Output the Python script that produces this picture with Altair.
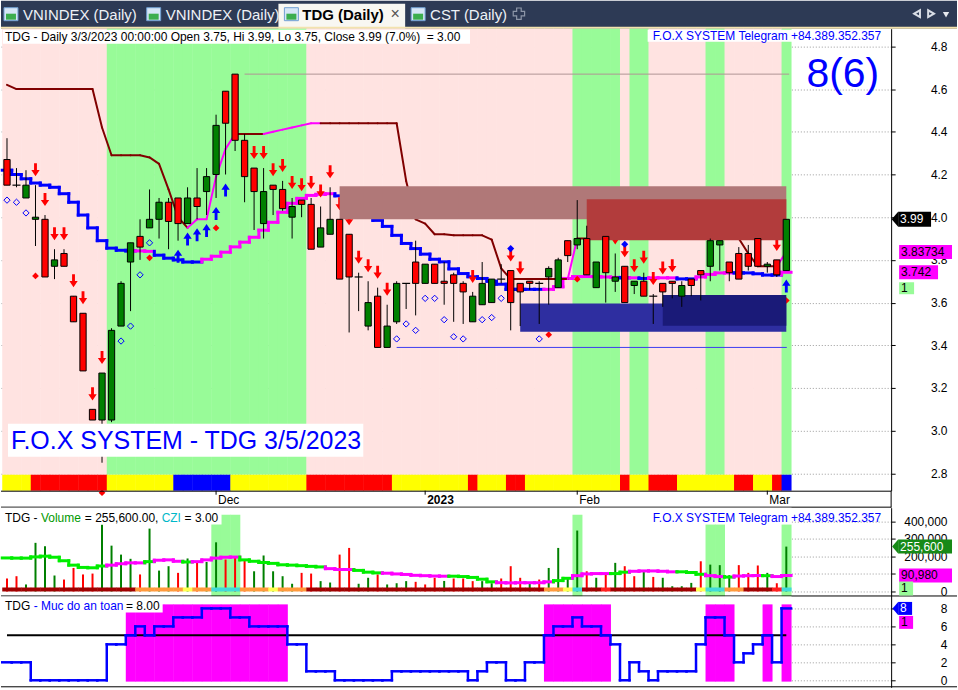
import altair as alt
import numpy as np
import pandas as pd

FONT = "Liberation Sans"
BLUE = "#0000ff"
MAGENTA = "#ff00ff"

# ---------------- daily bars: 1 Nov 2022 (index 0) .. 3 Mar 2023 (index 82) ----------------
opens = [4.27, 4.15, 4.09, 3.99, 3.99, 3.77, 3.83, 3.63, 3.55, 3.10,
         3.05, 3.05, 3.49, 3.79, 3.91, 3.95, 3.99, 4.07, 4.09, 3.97,
         4.09, 4.12, 4.20, 4.59, 4.67, 4.36, 4.23, 3.97, 4.15, 4.13,
         4.00, 4.08, 4.06, 3.86, 3.92, 3.99, 3.92, 3.72, 3.49, 3.63,
         3.39, 3.51, 3.69, 3.79, 3.69, 3.78, 3.70, 3.73, 3.69, 3.51,
         3.59, 3.60, 3.71, 3.75, 3.69, 3.70, 3.69, 3.72, 3.67, 3.89,
         3.87, 3.90, 3.67, 3.91, 3.70, 3.77, 3.68, 3.70, 3.63, 3.69,
         3.70, 3.63, 3.71, 3.75, 3.77, 3.87, 3.79, 3.83, 3.83, 3.90,
         3.77, 3.80, 3.75]
highs = [4.37, 4.23, 4.22, 4.15, 4.01, 3.85, 3.85, 3.63, 3.55, 3.10,
         3.27, 3.48, 3.70, 3.88, 3.99, 4.13, 4.09, 4.09, 4.09, 4.14,
         4.23, 4.23, 4.48, 4.59, 4.67, 4.39, 4.23, 4.23, 4.15, 4.17,
         4.09, 4.08, 4.09, 4.05, 4.14, 3.99, 3.92, 3.74, 3.70, 3.67,
         3.59, 3.70, 3.69, 3.89, 3.78, 3.78, 3.79, 3.74, 3.70, 3.65,
         3.79, 3.71, 3.78, 3.75, 3.69, 3.70, 3.70, 3.77, 3.81, 3.89,
         4.08, 3.96, 3.79, 3.91, 3.83, 3.77, 3.70, 3.74, 3.64, 3.69,
         3.70, 3.70, 3.71, 3.75, 3.90, 3.89, 3.79, 3.86, 3.87, 3.90,
         3.79, 3.80, 3.99]
lows = [4.15, 4.14, 4.09, 3.865, 3.72, 3.71, 3.77, 3.51, 3.28, 3.05,
        2.85, 3.04, 3.49, 3.56, 3.80, 3.95, 3.90, 3.85, 3.89, 3.97,
        3.99, 4.01, 4.09, 4.20, 4.31, 4.07, 3.94, 3.90, 4.01, 4.03,
        3.90, 4.00, 3.85, 3.86, 3.92, 3.71, 3.46, 3.56, 3.47, 3.39,
        3.39, 3.50, 3.57, 3.54, 3.69, 3.69, 3.59, 3.51, 3.50, 3.51,
        3.59, 3.60, 3.69, 3.47, 3.49, 3.66, 3.50, 3.59, 3.67, 3.79,
        3.85, 3.73, 3.67, 3.60, 3.65, 3.60, 3.64, 3.63, 3.50, 3.58,
        3.62, 3.58, 3.63, 3.61, 3.70, 3.75, 3.70, 3.71, 3.75, 3.77,
        3.74, 3.72, 3.75]
closes = [4.15, 4.15, 4.15, 4.00, 3.72, 3.80, 3.77, 3.51, 3.28, 3.05,
          3.27, 3.47, 3.69, 3.88, 3.86, 3.99, 4.07, 3.98, 3.97, 4.09,
          4.05, 4.19, 4.43, 4.44, 4.36, 4.19, 4.12, 4.12, 4.13, 4.04,
          4.05, 4.06, 3.85, 3.95, 3.99, 3.71, 3.72, 3.72, 3.60, 3.39,
          3.49, 3.69, 3.69, 3.69, 3.78, 3.69, 3.69, 3.69, 3.65, 3.63,
          3.69, 3.71, 3.71, 3.60, 3.65, 3.69, 3.69, 3.76, 3.80, 3.82,
          3.90, 3.73, 3.79, 3.74, 3.72, 3.60, 3.70, 3.63, 3.63, 3.65,
          3.69, 3.68, 3.68, 3.73, 3.89, 3.89, 3.74, 3.71, 3.77, 3.77,
          3.78, 3.73, 3.99]

month_ticks = [22, 44, 60, 80]
month_labels = ["Dec", "2023", "Feb", "Mar"]

# trend state shaded behind each bar: 1 = up (green), 0 = down (pink)
trend_state = ("0000000000" "0111111111"
               "1111111111" "1100000000"
               "0000000000" "0000000000"
               "1111101100" "0000110000"
               "001")
# signal strip at the bottom of the price pane
strip_state = ("YYYRRRRRRR" "RYYYYYYYBB"
               "BBBBYYYYYY" "YYRRRRRRRR"
               "RYYYYYYYYR" "YYYRRYYYYY"
               "YYYYYRYYRR" "RYYYYYYRRY"
               "YRB")

# trailing stop (maroon = bearish, magenta = bullish)
stop_line = [4.62, 4.60, 4.60, 4.60, 4.60, 4.60, 4.60, 4.60, 4.60, 4.60,
             4.42, 4.29, 4.29, 4.29, 4.29, 4.28, 4.25, 4.13, 4.00, 3.95,
             3.99, 3.99, 4.19, 4.32, 4.39, 4.39, 4.39, 4.39, 4.40, 4.41,
             4.42, 4.43, 4.44, 4.44, 4.44, 4.44, 4.44, 4.44, 4.44, 4.44,
             4.44, 4.44, 4.17, 3.99, 3.97, 3.92, 3.92, 3.915, 3.915, 3.915,
             3.915, 3.895, 3.76, 3.71, 3.71, 3.71, 3.71, 3.71, 3.71, 3.71,
             3.90, 3.90, 3.90, 3.90, 3.90, 3.90, 3.90, 3.90, 3.90, 3.90,
             3.90, 3.90, 3.90, 3.90, 3.90, 3.90, 3.90, 3.90, 3.83, 3.77,
             3.77, 3.77, 3.83734]
stop_state = ("mmmmmmmmmm" "mmmmmmmmmm"
              "MMMMMmmmMM" "MMMMmmmmmm"
              "mmmmmmmmmm" "mmmmmmmmmm"
              "Mmmmmmmmmm" "mmmmmmmmmm"
              "mmM")

# staircase average (blue = below, magenta = above)
base_line = [4.22, 4.20, 4.18, 4.16, 4.15, 4.14, 4.11, 4.07, 4.01, 3.95,
             3.89, 3.855, 3.845, 3.842, 3.842, 3.84, 3.822, 3.808, 3.80, 3.79,
             3.79, 3.803, 3.817, 3.836, 3.861, 3.883, 3.906, 3.939, 3.976, 4.023,
             4.065, 4.088, 4.102, 4.107, 4.11, 4.10, 4.079, 4.042, 4.014, 3.985,
             3.957, 3.915, 3.877, 3.853, 3.827, 3.803, 3.791, 3.758, 3.736, 3.721,
             3.713, 3.70, 3.686, 3.662, 3.662, 3.662, 3.662, 3.662, 3.674, 3.713,
             3.722, 3.722, 3.722, 3.72, 3.718, 3.716, 3.716, 3.713, 3.716, 3.716,
             3.716, 3.711, 3.711, 3.72, 3.732, 3.739, 3.739, 3.739, 3.739, 3.735,
             3.729, 3.729, 3.742]
base_state = ("bbbbbbbbbb" "bbbbMMbbbb"
              "bMMMMMMMMM" "MMMMMbbbbb"
              "bbbbbbbbbb" "bbbbbbbMMM"
              "MMMMMbMbMM" "MbbMMMMbbb"
              "bbM")

sell_bars = [3, 4, 5, 6, 7, 8, 9, 10, 26, 27, 28, 29, 30, 31, 32, 33, 34, 35, 36, 37,
             38, 39, 40, 49, 53, 54, 64, 65, 66, 67, 68, 69, 70, 81]
buy_bars = [18, 19, 20, 21, 22, 23, 82]
red_dot_bars = [3, 10, 15, 22, 57, 60, 82]
hollow_bars = [0, 1, 2, 12, 13, 14, 15, 41, 42, 43, 44, 45, 46, 47, 48, 50, 51, 52, 56]
blue_dot_bars = [53, 65]

# supply / demand zones
zone_start = [35, 61, 54, 69]
zone_low = [3.99, 3.892, 3.464, 3.492]
zone_high = [4.145, 4.084, 3.596, 3.635]
zone_color = ["#b07878", "#b23c3c", "#2e2ea0", "#1a1a78"]

# ---------------- volume pane ----------------
volumes = [74000, 87000, 40000, 277000, 258000, 91000, 68000, 134000, 97000, 102000,
           381000, 261000, 210000, 186000, 97000, 358000, 119000, 144000, 106000, 188000,
           172000, 168000, 280000, 182000, 201000, 176000, 115000, 205000, 115000, 87000,
           44000, 106000, 102000, 59000, 51000, 210000, 248000, 44000, 78000, 97000,
           40000, 47000, 59000, 55000, 40000, 78000, 60000, 74000, 74000, 59000,
           59000, 47000, 74000, 144000, 78000, 49000, 68000, 134000, 248000, 80000,
           347000, 115000, 78000, 106000, 163000, 144000, 87000, 115000, 83000, 78000,
           30000, 30000, 49000, 172000, 153000, 150000, 93000, 150000, 106000, 148000,
           106000, 47000, 255600]
volume_dir = ("rrggggrrrr" "ggggrgggrg"
              "rggrrrgggg" "grrggrrggr"
              "gggrrrgrrr" "ggrrrgrggg"
              "grgrgrrgrg" "gggrgggrrr"
              "grg")
volume_avg = [191000, 190000, 190000, 197000, 201000, 195000, 175000, 150000, 137000, 135000,
              145000, 150000, 158000, 163000, 163000, 170000, 178000, 180000, 172000, 168000,
              170000, 180000, 190000, 195000, 196000, 180000, 172000, 165000, 160000, 152000,
              150000, 147000, 143000, 140000, 130000, 125000, 125000, 120000, 110000, 106000,
              104000, 100000, 97000, 92000, 90000, 88000, 87000, 87000, 85000, 80000,
              70000, 55000, 50000, 49000, 50000, 50000, 50000, 55000, 62000, 75000,
              90000, 100000, 102000, 102000, 102000, 110000, 115000, 117000, 117000, 115000,
              112000, 112000, 108000, 98000, 90000, 85000, 82000, 88000, 90000, 91000,
              90000, 85000, 90980]
volume_avg_state = ("GGGGGGGGGG" "GMMMMGMMMG"
                    "MMMMMGGGGG" "GGGGMMMGGG"
                    "MMMMMMMGGG" "GGMMMMMMGG"
                    "MMMMGGMMMM" "MGGGMMGMMM"
                    "GMM")
volume_strip = ("DDDDDDDDDD" "DDDDOOOOOY"
                "OOCCCOOOYO" "OODDDDDDDD"
                "DDDDDDDDDD" "DDDDDDDOOY"
                "CDDRDDDDDD" "DDDYCCOODD"
                "DRC")
vol_signal_bars = [22, 23, 24, 60, 74, 75, 82]
vol_signal_top = [437000, 437000, 437000, 437000, 381000, 381000, 381000]
czi_value = 3.00

# ---------------- safety pane ("Muc do an toan") ----------------
safety = [2, 2, 2, 0, 0, 0, 0, 0, 0, 0,
          0, 4, 4, 5, 6, 5, 6, 6, 7, 7,
          7, 8, 8, 8, 7, 7, 6, 6, 6, 6,
          4, 4, 1, 1, 1, 0, 0, 0, 0, 0,
          0, 1, 1, 1, 1, 1, 1, 1, 1, 0,
          1, 2, 2, 0, 0, 2, 2, 5, 6, 6,
          7, 6, 6, 5, 4, 0, 2, 1, 0, 1,
          1, 1, 1, 4, 7, 7, 5, 2, 3, 4,
          5, 2, 8]
safety_level = 5

# ---------------- layout & scales ----------------
N = len(closes)
W_PLOT = 892
W_ALL = 958
H_TABS, H_PRICE, H_DATES, H_VOL, H_SAFE = 28, 463, 17, 89, 91

XS = alt.Scale(domain=[-0.63, 93.03], nice=False, zero=False)
PRICE_DOM = [2.719, 4.883]
VOL_DOM = [-28400, 477300]
SAFE_DOM = [-0.78, 9.33]
PX_PRICE = (PRICE_DOM[1] - PRICE_DOM[0]) / H_PRICE
PX_VOL = (VOL_DOM[1] - VOL_DOM[0]) / H_VOL

ONE = pd.DataFrame({"k": [0]})


def right_axis(values, fmt):
    return alt.Axis(orient="right", values=values, format=fmt, title=None,
                    tickSize=4, tickColor="black", domainColor="black",
                    labelAlign="right", labelPadding=52, labelFontSize=12,
                    labelColor="black", labelFont=FONT, grid=True, zindex=0,
                    gridColor="#9a9a9a", gridDash=[1, 2], labelBaseline="middle")


# every layer of a pane carries the same scale and axis so they merge into one
PANES = {
    "price": (alt.Scale(domain=PRICE_DOM, nice=False, zero=False),
              right_axis([round(2.8 + 0.2 * k, 1) for k in range(11)], ".1f")),
    "vol": (alt.Scale(domain=VOL_DOM, nice=False, zero=False),
            right_axis([0, 100000, 200000, 300000, 400000], ",.0f")),
    "safe": (alt.Scale(domain=SAFE_DOM, nice=False, zero=False),
             right_axis([0, 2, 4, 6, 8], "d")),
}


def X(field):
    return alt.X(f"{field}:Q", scale=XS, axis=None)


def Y(field, pane):
    scale, axis = PANES[pane]
    return alt.Y(f"{field}:Q", scale=scale, axis=axis)


def chrome_rect(x0, x1, y0, y1, color, **kw):
    return alt.Chart(ONE).mark_rect(color=color, **kw).encode(
        x=alt.value(x0), x2=alt.value(x1), y=alt.value(y0), y2=alt.value(y1))


def chrome_text(x, y, text, color="black", size=12, align="left", weight="normal"):
    return alt.Chart(ONE).mark_text(align=align, baseline="middle", fontSize=size,
                                    color=color, font=FONT, fontWeight=weight).encode(
        x=alt.value(x), y=alt.value(y), text=alt.value(text))


def chrome_hline(x0, x1, y, color="black", width=1):
    return alt.Chart(ONE).mark_rule(color=color, strokeWidth=width).encode(
        x=alt.value(x0), x2=alt.value(x1), y=alt.value(y))


def chrome_vline(x, y0, y1, color="black", width=1):
    return alt.Chart(ONE).mark_rule(color=color, strokeWidth=width).encode(
        x=alt.value(x), y=alt.value(y0), y2=alt.value(y1))


POINTER = "M-0.43,0L0.43,-1L0.43,1Z"


def value_tag(value, text, pane, x0, x1, fill, ink, pointer=False, shift=0, half=7):
    d = pd.DataFrame({"v": [value], "t": [text]})
    base = alt.Chart(d)
    layers = [base.mark_rect(color=fill, yOffset=shift - half, y2Offset=shift + half).encode(
        x=alt.value(x0), x2=alt.value(x1), y=Y("v", pane), y2="v")]
    if pointer:
        layers.append(base.mark_point(shape=POINTER, filled=True, color=fill, opacity=1,
                                      size=4 * half * half, yOffset=shift, strokeWidth=0).encode(
            x=alt.value(x0 - 0.43 * half), y=Y("v", pane)))
    layers.append(base.mark_text(align="left", baseline="middle", fontSize=12, color=ink,
                                 font=FONT, yOffset=shift).encode(
        x=alt.value(x0 + 2), y=Y("v", pane), text="t:N"))
    return layers


def step_segments(vals, states, palette):
    rows = []
    for i, v in enumerate(vals):
        rows.append({"xa": i - 0.5, "xb": i + 0.5, "ya": v, "yb": v, "col": palette[states[i]]})
        if i + 1 < len(vals):
            rows.append({"xa": i + 0.5, "xb": i + 0.5, "ya": v, "yb": vals[i + 1],
                         "col": palette[states[i + 1]]})
    return pd.DataFrame(rows)


def segment_layer(df, pane, width, cap):
    return alt.Chart(df).mark_rule(strokeWidth=width, strokeCap=cap).encode(
        x=X("xa"), x2="xb", y=Y("ya", pane), y2="yb",
        color=alt.Color("col:N", scale=None))


# ---------------- price pane ----------------
bars = pd.DataFrame({"i": range(N), "o": opens, "h": highs, "l": lows, "c": closes})
bars["x0"] = bars.i - 0.5
bars["x1"] = bars.i + 0.55
bars["bx0"] = bars.i - 0.33
bars["bx1"] = bars.i + 0.33
bars["btop"] = np.maximum(bars.o, bars.c)
bars["bbot"] = np.minimum(bars.o, bars.c)
bars["body_col"] = np.where(bars.c >= bars.o, "#008000", "#ff0000")
bars["zone_col"] = [{"1": "#98fb98", "0": "#ffe3e1"}[s] for s in trend_state]
bars["strip_col"] = [{"Y": "#ffff00", "R": "#ff0000", "B": "#0000ff"}[s] for s in strip_state]
bars["top_edge"] = PRICE_DOM[1]
bars["bottom_edge"] = PRICE_DOM[0]
bars["strip_top"] = PRICE_DOM[0] + 16 * PX_PRICE
bars["dx0"] = bars.i - 0.42
bars["dx1"] = bars.i + 0.42

background = alt.Chart(bars).mark_rect().encode(
    x=X("x0"), x2="x1", y=Y("strip_top", "price"), y2="top_edge",
    color=alt.Color("zone_col:N", scale=None))
strip = alt.Chart(bars).mark_rect().encode(
    x=X("x0"), x2="x1", y=Y("bottom_edge", "price"), y2="strip_top",
    color=alt.Color("strip_col:N", scale=None))

peak = max(highs)
peak_line = alt.Chart(pd.DataFrame({"xa": [highs.index(peak) + 1], "xb": [N - 0.7], "y": [peak]})).mark_rule(
    color="#b09494", strokeWidth=1).encode(x=X("xa"), x2="xb", y=Y("y", "price"))
support = min(lows[35:41])
support_line = alt.Chart(pd.DataFrame({"xa": [41], "xb": [N - 0.95], "y": [support]})).mark_rule(
    color="#3c3cf0", strokeWidth=1).encode(x=X("xa"), x2="xb", y=Y("y", "price"))

base_layer = segment_layer(step_segments(base_line, base_state, {"b": BLUE, "M": MAGENTA}),
                           "price", 3, "square")
stop_df = pd.DataFrame({"xa": list(range(N - 1)), "xb": list(range(1, N)),
                        "ya": stop_line[:-1], "yb": stop_line[1:],
                        "col": [{"m": "#800000", "M": MAGENTA}[s] for s in stop_state[1:]]})
stop_layer = segment_layer(stop_df, "price", 2, "round")

DOWN_ARROW = "M-0.22,-1L0.22,-1L0.22,0.05L0.64,0.05L0,1L-0.64,0.05L-0.22,0.05Z"
UP_ARROW = "M-0.22,1L0.22,1L0.22,-0.05L0.64,-0.05L0,-1L-0.64,-0.05L-0.22,-0.05Z"


def markers(bar_list, field, shape, color, size, yoff, filled=True):
    d = bars[bars.i.isin(bar_list)]
    if filled:
        m = alt.Chart(d).mark_point(shape=shape, filled=True, color=color, opacity=1,
                                    size=size, yOffset=yoff, strokeWidth=0)
    else:
        m = alt.Chart(d).mark_point(shape=shape, filled=False, color=color, opacity=1,
                                    size=size, yOffset=yoff, strokeWidth=1)
    return m.encode(x=X("i"), y=Y(field, "price"))


sell_layer = markers(sell_bars, "h", DOWN_ARROW, "#ff0000", 170, -15.5)
buy_layer = markers(buy_bars, "l", UP_ARROW, BLUE, 170, 15.5)
red_dots = markers(red_dot_bars, "l", "diamond", "#ff0000", 45, 30)
hollow = markers(hollow_bars, "l", "diamond", BLUE, 40, 15, filled=False)
blue_dots = markers(blue_dot_bars, "h", "diamond", BLUE, 50, -22)

zones = pd.DataFrame({"xa": zone_start, "xb": [N - 1] * len(zone_start),
                      "lo": zone_low, "hi": zone_high, "col": zone_color})
zone_layer = alt.Chart(zones).mark_rect().encode(
    x=X("xa"), x2="xb", y=Y("lo", "price"), y2="hi", color=alt.Color("col:N", scale=None))

wicks = alt.Chart(bars).mark_rule(color="black", strokeWidth=1).encode(
    x=X("i"), y=Y("l", "price"), y2="h")
bodies = alt.Chart(bars[bars.btop - bars.bbot >= 0.006]).mark_rect(stroke="black", strokeWidth=1).encode(
    x=X("bx0"), x2="bx1", y=Y("bbot", "price"), y2="btop", color=alt.Color("body_col:N", scale=None))
dojis = alt.Chart(bars[bars.btop - bars.bbot < 0.006]).mark_rule(color="black", strokeWidth=1.2).encode(
    x=X("dx0"), x2="dx1", y=Y("c", "price"))

pct = (closes[-1] / closes[-2] - 1) * 100
header = (f"TDG - Daily 3/3/2023 00:00:00 Open {opens[-1]:.2f}, Hi {highs[-1]:.2f}, "
          f"Lo {lows[-1]:.2f}, Close {closes[-1]:.2f} ({pct:.1f}%)\u00a0\u00a0= {czi_value:.2f}")
telegram = "F.O.X SYSTEM Telegram +84.389.352.357"

price_layers = [
    background, strip, peak_line, support_line, base_layer, stop_layer,
    sell_layer, buy_layer, red_dots, hollow, blue_dots,
    zone_layer, wicks, bodies, dojis,
    chrome_rect(2, 470, 1, 15, "white"),
    chrome_text(4, 8, header),
    chrome_rect(648, 885, 1, 13, "white"),
    chrome_text(882, 7, telegram, color=BLUE, align="right"),
    chrome_text(880, 46, "8(6)", color=BLUE, size=41, align="right"),
    chrome_rect(7, 363, 396, 429, "white"),
    chrome_text(10, 413, "F.O.X SYSTEM - TDG 3/5/2023", color=BLUE, size=25),
]
price_layers += value_tag(closes[-1], f"{closes[-1]:.2f}", "price", 899, 932, "black", "white",
                          pointer=True, half=7.5)
price_layers += value_tag(stop_line[-1], f"{stop_line[-1]:.5f}", "price", 900, 953, MAGENTA, "black")
price_layers += value_tag(base_line[-1], f"{base_line[-1]:.3f}", "price", 900, 939, MAGENTA, "black")
price_layers += value_tag(base_line[-1], "1", "price", 900, 915, "#98fb98", "black", shift=16, half=6)
price_pane = alt.layer(*price_layers).properties(width=W_PLOT, height=H_PRICE)

# ---------------- date axis strip ----------------
months = pd.DataFrame({"i": month_ticks, "lab": month_labels,
                       "bold": [lab.isdigit() for lab in month_labels]})
date_layers = [
    alt.Chart(months).mark_rule(color="black").encode(x=X("i"), y=alt.value(0), y2=alt.value(4)),
    alt.Chart(months[~months.bold]).mark_text(align="left", baseline="middle", dx=2, fontSize=12,
                                              font=FONT, color="black").encode(
        x=X("i"), y=alt.value(9), text="lab:N"),
    alt.Chart(months[months.bold]).mark_text(align="left", baseline="middle", dx=2, fontSize=12,
                                             font=FONT, color="black", fontWeight="bold").encode(
        x=X("i"), y=alt.value(9), text="lab:N"),
    chrome_hline(0, W_PLOT, 0.5),
    chrome_hline(0, W_PLOT, 16.5),
    chrome_vline(W_PLOT, 0, H_DATES),
]
date_strip = alt.layer(*date_layers).properties(width=W_PLOT, height=H_DATES)

# ---------------- volume pane ----------------
vol = pd.DataFrame({"i": range(N), "vol": volumes, "zero": 0})
vol["vcol"] = [{"g": "#008000", "r": "#ff0000"}[s] for s in volume_dir]
vol["x0"] = vol.i - 0.5
vol["x1"] = vol.i + 0.55
vol["strip_top"] = 4 * PX_VOL
vol["scol"] = [{"D": "#a00000", "O": "#ff9a3c", "Y": "#ffff50", "C": "#40dada", "R": "#ff2020"}[s]
               for s in volume_strip]
sig = pd.DataFrame({"x0": [b - 0.5 for b in vol_signal_bars], "x1": [b + 0.55 for b in vol_signal_bars],
                    "lo": VOL_DOM[0], "hi": vol_signal_top})
vol_cover = pd.DataFrame({"xa": [-0.63], "xb": [N - 0.45], "lo": [VOL_DOM[0]], "hi": [VOL_DOM[1]]})

vol_layers = [
    alt.Chart(vol_cover).mark_rect(color="white").encode(
        x=X("xa"), x2="xb", y=Y("lo", "vol"), y2="hi"),
    alt.Chart(sig).mark_rect(color="#98fb98").encode(x=X("x0"), x2="x1", y=Y("lo", "vol"), y2="hi"),
    alt.Chart(vol).mark_rule(strokeWidth=2).encode(
        x=X("i"), y=Y("zero", "vol"), y2="vol", color=alt.Color("vcol:N", scale=None)),
    segment_layer(step_segments(volume_avg, volume_avg_state, {"G": "#00ee00", "M": MAGENTA}),
                  "vol", 3, "square"),
    alt.Chart(vol).mark_rect().encode(x=X("x0"), x2="x1", y=Y("zero", "vol"), y2="strip_top",
                                      color=alt.Color("scol:N", scale=None)),
    chrome_rect(2, 221, 3, 17, "white"),
    chrome_text(4, 10, "TDG -"),
    chrome_text(40, 10, "Volume", color="#009900"),
    chrome_text(84, 10, f"= {volumes[-1]:,.2f},"),
    chrome_text(161, 10, "CZI", color="#00b8c8"),
    chrome_text(184, 10, f"= {czi_value:.2f}"),
    chrome_text(882, 10, telegram, color=BLUE, align="right"),
    chrome_hline(0, W_ALL, 88.5),
]
vol_layers += value_tag(volumes[-1], f"{volumes[-1]:,}", "vol", 899, 953, "#178a17", "white",
                        pointer=True, half=7)
vol_layers += value_tag(volume_avg[-1], f"{volume_avg[-1]:,.0f}", "vol", 900, 953, MAGENTA, "black")
vol_layers += value_tag(0, "1", "vol", 900, 914, "#98fb98", "black", shift=-3, half=7)
volume_pane = alt.layer(*vol_layers).properties(width=W_PLOT, height=H_VOL)

# ---------------- safety pane ----------------
saf = pd.DataFrame({"i": range(N), "s": safety})
safe_steps = step_segments(safety, "b" * N, {"b": BLUE})
hot = saf[saf.s >= safety_level].copy()
hot["x0"] = hot.i - 0.5
hot["x1"] = hot.i + 0.55
hot["lo"] = -0.15
hot["hi"] = 8.45
safe_cover = pd.DataFrame({"xa": [-0.63], "xb": [N - 0.45], "lo": [SAFE_DOM[0]], "hi": [SAFE_DOM[1]]})
level_df = pd.DataFrame({"xa": [0], "xb": [N - 1], "y": [safety_level]})

safe_layers = [
    alt.Chart(safe_cover).mark_rect(color="white").encode(
        x=X("xa"), x2="xb", y=Y("lo", "safe"), y2="hi"),
    alt.Chart(hot).mark_rect(color=MAGENTA).encode(x=X("x0"), x2="x1", y=Y("lo", "safe"), y2="hi"),
    alt.Chart(level_df).mark_rule(color="black", strokeWidth=2).encode(
        x=X("xa"), x2="xb", y=Y("y", "safe")),
    segment_layer(safe_steps, "safe", 2.5, "square"),
    chrome_rect(2, 162, 3, 16, "white"),
    chrome_text(4, 9.5, "TDG"),
    chrome_text(32.7, 9.5, "- Muc do an toan", color=BLUE),
    chrome_text(125.3, 9.5, f"= {safety[-1]:.2f}"),
    chrome_hline(0, W_ALL, 90.5),
]
safe_layers += value_tag(safety[-1], f"{safety[-1]}", "safe", 899, 913, BLUE, "white",
                         pointer=True, half=6.5)
safe_layers += value_tag(safety[-1], "1", "safe", 900, 914, MAGENTA, "black", shift=14, half=6.5)
safety_pane = alt.layer(*safe_layers).properties(width=W_PLOT, height=H_SAFE)

# ---------------- tab bar ----------------
tab_names = ["VNINDEX (Daily)", "VNINDEX (Daily)", "TDG (Daily)", "CST (Daily)"]
tab_layers = [
    chrome_rect(0, W_ALL, 0, H_TABS, "#2d3a55"),
    chrome_rect(278, 405, 3, H_TABS, "#f8f7f2"),
    chrome_rect(0, W_ALL, 26, H_TABS, "#f3e2ae"),
]
for icon_x, text_x, name in zip([3, 146, 284, 411], [22, 165, 302, 430], tab_names):
    active = name.startswith("TDG")
    tab_layers += [
        chrome_rect(icon_x, icon_x + 14, 7, 20, "#d6e6f6", stroke="#6f9fd2", strokeWidth=1),
        chrome_rect(icon_x + 2, icon_x + 12, 13, 19, "#3cae4e"),
        chrome_text(text_x, 14.5, name, color="black" if active else "#eef1f6", size=15,
                    weight="bold" if active else "normal"),
    ]
tab_layers += [
    chrome_text(395, 13.5, "×", color="#555555", size=16, align="center"),
    alt.Chart(ONE).mark_point(shape="cross", filled=False, color="#8d96a8", size=130,
                              strokeWidth=1.2, opacity=1).encode(x=alt.value(519), y=alt.value(13)),
    alt.Chart(ONE).mark_point(shape="triangle-left", filled=False, color="#d8dde6", size=45,
                              opacity=1).encode(x=alt.value(918), y=alt.value(13)),
    alt.Chart(ONE).mark_point(shape="triangle-right", filled=False, color="#d8dde6", size=45,
                              opacity=1).encode(x=alt.value(932), y=alt.value(13)),
    alt.Chart(ONE).mark_point(shape="triangle-down", filled=True, color="#e6e9ef", size=40,
                              opacity=1).encode(x=alt.value(947), y=alt.value(14)),
]
tab_bar = alt.layer(*tab_layers).properties(width=W_ALL, height=H_TABS)

chart = alt.vconcat(tab_bar, price_pane, date_strip, volume_pane, safety_pane,
                    spacing=0, bounds="flush").properties(
    padding=0, background="white"
).configure(font=FONT, view=alt.ViewConfig(stroke=None))

chart.save("out.html", embed_options={"renderer": "svg", "actions": False})
